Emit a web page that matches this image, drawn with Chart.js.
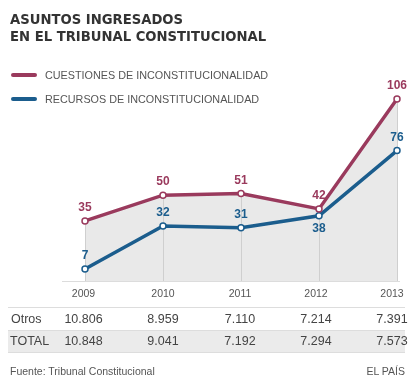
<!DOCTYPE html>
<html>
<head>
<meta charset="utf-8">
<script src="https://cdn.jsdelivr.net/npm/chart.js@4"></script>
<style>
  html, body { margin:0; padding:0; background:#fff; }
  #wrap { position:relative; width:414px; height:382px; overflow:hidden; font-family:"Liberation Sans", Arial, sans-serif; }
  #c { position:absolute; left:0; top:0; }
  .abs { position:absolute; white-space:nowrap; }
  #title { left:10px; top:11px; font-family:"DejaVu Sans", Verdana, sans-serif; font-weight:bold; font-size:13.2px; line-height:17px; color:#333; }
  .sw { position:absolute; left:11px; width:26px; height:4px; border-radius:2px; }
  .lg { position:absolute; left:45px; font-size:10.8px; line-height:12px; color:#555; }
  .cell { position:absolute; transform:translateX(-50%); white-space:nowrap; }
  .yr { font-size:10.5px; color:#555; line-height:12px; }
  .num { font-size:12.5px; color:#444; line-height:14px; }
  .hline { position:absolute; height:1px; background:#ddd; }
  #foot1 { left:10px; top:365px; font-size:10.5px; color:#555; }
  #foot2 { right:9px; top:365px; font-size:10.5px; color:#555; }
</style>
</head>
<body>
<div id="wrap">
  <canvas id="c" width="414" height="382"></canvas>
  <div id="title" class="abs">ASUNTOS INGRESADOS<br>EN EL TRIBUNAL CONSTITUCIONAL</div>
  <div id="legend"></div>
  <div id="table"></div>
  <div id="foot1" class="abs">Fuente: Tribunal Constitucional</div>
  <div id="foot2" class="abs">EL PAÍS</div>
</div>
<script>
// ---- data ----
const years = ['2009', '2010', '2011', '2012', '2013'];
const cuestiones = [35, 50, 51, 42, 106];
const recursos = [7, 32, 31, 38, 76];
const otros = [10806, 8959, 7110, 7214, 7391];
const total = [10848, 9041, 7192, 7294, 7573];
const seriesNames = ['CUESTIONES DE INCONSTITUCIONALIDAD', 'RECURSOS DE INCONSTITUCIONALIDAD'];
const rowNames = ['Otros', 'TOTAL'];

// ---- styles / layout ----
const RED = '#9a3a5d';
const BLUE = '#1b5d8d';
const colCenters = [83.5, 163, 240, 316, 392];

function fmt(n) { return String(n).replace(/\B(?=(\d{3})+(?!\d))/g, '.'); }

// legend
const legend = document.getElementById('legend');
[[seriesNames[0], RED, 75], [seriesNames[1], BLUE, 99]].forEach(([name, col, cy]) => {
  const s = document.createElement('div'); s.className = 'sw'; s.style.background = col; s.style.top = (cy - 2) + 'px'; legend.appendChild(s);
  const t = document.createElement('div'); t.className = 'lg'; t.textContent = name; t.style.top = (cy - 6) + 'px'; legend.appendChild(t);
});

// table
const table = document.getElementById('table');
function addCell(text, cls, cx, top) {
  const d = document.createElement('div'); d.className = 'cell ' + cls; d.textContent = text;
  d.style.left = cx + 'px'; d.style.top = top + 'px'; table.appendChild(d);
}
function addLine(top, left, right) {
  const d = document.createElement('div'); d.className = 'hline'; d.style.top = top + 'px';
  d.style.left = left + 'px'; d.style.width = (right - left) + 'px'; table.appendChild(d);
}
const bg = document.createElement('div');
bg.style.cssText = 'position:absolute;left:8px;width:397px;top:331px;height:21px;background:#ebebeb;';
table.appendChild(bg);
addLine(307, 8, 405); addLine(330, 8, 405); addLine(352, 8, 405);
years.forEach((y, i) => addCell(y, 'yr', colCenters[i], 287));
const r1 = document.createElement('div'); r1.className = 'abs num'; r1.style.left = '11px'; r1.style.top = '312px'; r1.textContent = rowNames[0]; table.appendChild(r1);
const r2 = document.createElement('div'); r2.className = 'abs num'; r2.style.left = '10px'; r2.style.top = '334px'; r2.textContent = rowNames[1]; table.appendChild(r2);
otros.forEach((v, i) => addCell(fmt(v), 'num', colCenters[i], 312));
total.forEach((v, i) => addCell(fmt(v), 'num', colCenters[i], 334));

// chart decorations
const deco = {
  id: 'deco',
  beforeDatasetsDraw(chart) {
    const { ctx, chartArea } = chart;
    const x = chart.scales.x, y = chart.scales.y;
    const y0 = y.getPixelForValue(0);
    ctx.save();
    ctx.strokeStyle = '#cfcfcf';
    ctx.lineWidth = 1;
    cuestiones.forEach((v, i) => {
      const px = Math.round(x.getPixelForValue(i)) + 0.5;
      ctx.beginPath(); ctx.moveTo(px, y.getPixelForValue(v)); ctx.lineTo(px, y0); ctx.stroke();
    });
    ctx.strokeStyle = '#dcdcdc';
    ctx.beginPath(); ctx.moveTo(chartArea.left - 23, Math.round(y0) + 0.5); ctx.lineTo(chartArea.right + 3, Math.round(y0) + 0.5); ctx.stroke();
    ctx.restore();
  },
  afterDatasetsDraw(chart) {
    const { ctx } = chart;
    const x = chart.scales.x, y = chart.scales.y;
    ctx.save();
    ctx.font = 'bold 12px "Liberation Sans", Arial, sans-serif';
    ctx.textAlign = 'center';
    ctx.textBaseline = 'middle';
    cuestiones.forEach((v, i) => {
      ctx.fillStyle = RED;
      ctx.fillText(String(v), x.getPixelForValue(i), y.getPixelForValue(v) - 13);
    });
    recursos.forEach((v, i) => {
      ctx.fillStyle = BLUE;
      const below = (cuestiones[i] - v) < 8;
      ctx.fillText(String(v), x.getPixelForValue(i), y.getPixelForValue(v) + (below ? 13 : -13));
    });
    ctx.restore();
  }
};

new Chart(document.getElementById('c'), {
  type: 'line',
  data: {
    labels: years,
    datasets: [
      { label: seriesNames[0], data: cuestiones, borderColor: RED, borderWidth: 3.5, backgroundColor: '#e9e9e9',
        fill: 'origin', pointRadius: 3, pointBorderWidth: 1.5, pointBackgroundColor: '#fff', pointBorderColor: RED, tension: 0 },
      { label: seriesNames[1], data: recursos, borderColor: BLUE, borderWidth: 3.5, fill: false,
        pointRadius: 3, pointBorderWidth: 1.5, pointBackgroundColor: '#fff', pointBorderColor: BLUE, tension: 0 }
    ]
  },
  options: {
    responsive: false,
    animation: false,
    devicePixelRatio: 1,
    layout: { padding: { left: 85, right: 17, top: 75, bottom: 101 } },
    scales: {
      x: { display: false },
      y: { display: false, min: 0, max: 120 }
    },
    plugins: {
      legend: { display: false },
      tooltip: { enabled: false },
      filler: { drawTime: 'beforeDatasetsDraw' }
    }
  },
  plugins: [deco]
});
</script>
</body>
</html>
